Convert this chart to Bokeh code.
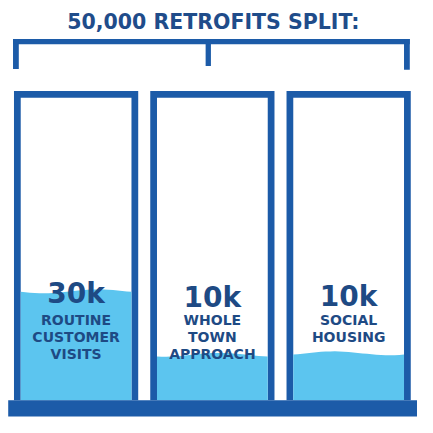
import numpy as np
from bokeh.plotting import figure
from bokeh.models import Range1d
from bokeh.core.properties import value
from bokeh.embed import file_html
from bokeh.resources import INLINE

# ---- data ----
title_text = "50,000 RETROFITS SPLIT:"
categories = ["ROUTINE\nCUSTOMER\nVISITS", "WHOLE\nTOWN\nAPPROACH", "SOCIAL\nHOUSING"]
amounts = [30, 10, 10]            # thousands of retrofits
amount_labels = ["30k", "10k", "10k"]
fill_share = [0.36, 0.15, 0.155]  # visible water level in each container

# ---- style ----
BORDER = "#1c5ba8"
TITLE = "#1f4c8a"
WATER = "#5cc5ef"
TEXTC = "#1e4a84"
FONT = value("DejaVu Sans")

W = H = 417
SPAN = 433
p = figure(width=W, height=H, output_backend="svg", toolbar_location=None,
           x_range=Range1d(0, SPAN), y_range=Range1d(SPAN, 0),
           min_border=0)
p.axis.visible = False
p.grid.visible = False
p.outline_line_color = None
p.background_fill_color = "white"
p.border_fill_color = "white"

# layout (in reference-picture units)
box_left0, box_w, box_gap = 14, 129, 12.5
box_top, base_top, base_bot = 94, 415, 432
bw = 7
lefts = [box_left0 + i * (box_w + box_gap) for i in range(len(categories))]
rights = [l + box_w for l in lefts]
inner_top = box_top + bw
inner_h = base_top - inner_top

# title
p.text(x=[221], y=[22], text=[title_text], text_font=FONT, text_font_style="bold",
       text_font_size="20.5px", text_color=TITLE, text_align="center", text_baseline="middle")

# bracket
brk_l, brk_r, brk_t, brk_b = 13, 425, 40, 45.5
p.quad(left=[brk_l, brk_l, 213, brk_r - 6], right=[brk_r, brk_l + 6, 218.5, brk_r],
       top=[brk_t, brk_t, brk_t, brk_t], bottom=[brk_b, 71, 68, 72],
       fill_color=BORDER, line_color=None)

# containers
p.quad(left=lefts, right=rights, top=[box_top] * 3, bottom=[base_top] * 3,
       fill_color=BORDER, line_color=None)
p.quad(left=[l + bw for l in lefts], right=[r - bw for r in rights],
       top=[inner_top] * 3, bottom=[base_top] * 3, fill_color="white", line_color=None)

# water with a gentle wavy surface
xs, ys = [], []
phases = [0.3, 1.2, 2.4]
for l, r, f, ph in zip(lefts, rights, fill_share, phases):
    level = base_top - f * inner_h
    wx = np.linspace(l + bw, r - bw, 25)
    wy = level + 2.0 * np.sin(np.linspace(0, 2 * np.pi, 25) + ph)
    xs.append(list(wx) + [r - bw, l + bw])
    ys.append(list(wy) + [base_top, base_top])
p.patches(xs=xs, ys=ys, fill_color=WATER, line_color=None)

# base bar
p.quad(left=[8], right=[433], top=[base_top], bottom=[base_bot], fill_color=BORDER, line_color=None)

# labels
centers = [(l + r) / 2 for l, r in zip(lefts, rights)]
p.text(x=centers, y=[304, 308, 307], text=amount_labels, text_font=FONT, text_font_style="bold",
       text_font_size="28px", text_color=TEXTC, text_align="center", text_baseline="middle")
lx, ly, lt = [], [], []
for c, cat in zip(centers, categories):
    for j, line in enumerate(cat.split("\n")):
        lx.append(c)
        ly.append(332 + j * 17.5)
        lt.append(line)
p.text(x=lx, y=ly, text=lt, text_font=FONT, text_font_style="bold",
       text_font_size="14px", text_color=TEXTC, text_align="center", text_baseline="middle")

open("out.html", "w").write(file_html(p, INLINE))
